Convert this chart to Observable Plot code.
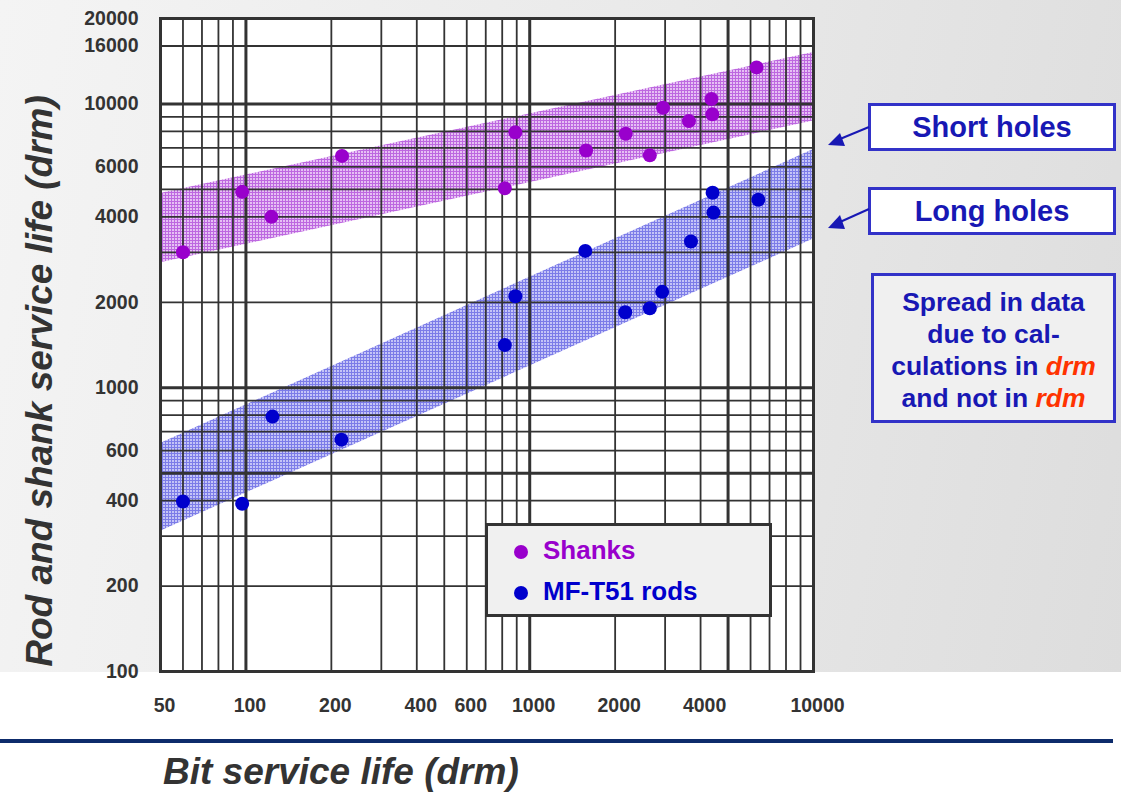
<!DOCTYPE html>
<html>
<head>
<meta charset="utf-8">
<script src="https://cdn.jsdelivr.net/npm/d3@7"></script>
<script src="https://cdn.jsdelivr.net/npm/@observablehq/plot@0.6"></script>
<style>
  body { margin: 0; background: #fff; }
  #wrap { position: relative; width: 1121px; height: 794px; overflow: hidden; font-family: "Liberation Sans", Arial, sans-serif; }
  #bg { position: absolute; left: 0; top: 0; width: 1121px; height: 672px;
        background: linear-gradient(100deg, #f4f4f4 0%, #e9e9e9 55%, #dddddd 100%); }
  #chart { position: absolute; left: 0; top: 0; }
  .ytitle { position: absolute; left: 40px; top: 381px; transform: translate(-50%, -50%) rotate(-90deg);
            white-space: nowrap; font-size: 37px; font-weight: bold; font-style: italic; color: #333; }
  .xtitle { position: absolute; left: 163px; top: 753px; white-space: nowrap; font-size: 37px; line-height: 37px;
            font-weight: bold; font-style: italic; color: #333; }
  .rule { position: absolute; left: 0; top: 739px; width: 1113px; height: 4px; background: #0d2b6b; }
  .box { position: absolute; box-sizing: border-box; border: 3px solid #3232c8; color: #1818b4;
         font-weight: bold; text-align: center; white-space: nowrap; }
  .legend { position: absolute; box-sizing: border-box; left: 485px; top: 523px; width: 287px; height: 94px;
            border: 3px solid #333; background: #f0f0f0; }
  .litem { position: absolute; left: 0; font-size: 26px; font-weight: bold; white-space: nowrap; }
  .ldot { position: absolute; width: 14px; height: 14px; border-radius: 50%; }
  .red { color: #ff3300; font-style: italic; }
  #arrows { position: absolute; left: 0; top: 0; }
</style>
</head>
<body>
<div id="wrap">
  <div id="bg"></div>
  <div id="chart"></div>
  <div class="ytitle">Rod and shank service life (drm)</div>
  <div class="rule"></div>
  <div class="xtitle">Bit service life (drm)</div>
  <div class="legend">
    <div class="ldot" style="left:26px;top:19px;background:#9900cc"></div>
    <div class="litem" style="left:55px;top:9px;color:#9900cc">Shanks</div>
    <div class="ldot" style="left:26px;top:60px;background:#0000cc"></div>
    <div class="litem" style="left:55px;top:50px;color:#0000cc">MF-T51 rods</div>
  </div>
  <div class="box" style="left:868px;top:103px;width:248px;height:48px;background:#fff;font-size:29px;line-height:42px;">Short holes</div>
  <div class="box" style="left:868px;top:187px;width:248px;height:48px;background:#fff;font-size:29px;line-height:42px;">Long holes</div>
  <div class="box" style="left:871px;top:273px;width:245px;height:150px;background:#f0f0f0;font-size:26.5px;line-height:32px;padding-top:10px;">
    Spread in data<br>due to cal-<br>culations in <span class="red">drm</span><br>and not in <span class="red">rdm</span>
  </div>
  <svg id="arrows" width="1121" height="794">
    <line x1="869" y1="127" x2="840" y2="139" stroke="#1818b4" stroke-width="2"/>
    <polygon points="828,145 840,133 845,146" fill="#1818b4"/>
    <line x1="869" y1="209" x2="840" y2="222" stroke="#1818b4" stroke-width="2"/>
    <polygon points="828,228 840,215 845,229" fill="#1818b4"/>
  </svg>
</div>
<script>
// ---- data ----
const shankX = [60, 97, 123, 218, 817, 890, 1580, 2180, 2650, 2950, 3640, 4370, 4400, 6300];
const shankY = [3000, 4900, 4000, 6560, 5040, 7940, 6850, 7850, 6590, 9700, 8700, 10400, 9190, 13450];
const rodX = [60, 97, 124, 217, 817, 890, 1570, 2170, 2650, 2930, 3700, 4410, 4440, 6390];
const rodY = [397, 390, 791, 656, 1413, 2100, 3035, 1845, 1906, 2177, 3276, 4864, 4140, 4594];
const bandX = [50, 10000];
const shortLow = [2754, 8707];
const shortHigh = [4834, 15170];
const longLow = [312, 3340];
const longHigh = [636, 6905];
const xMinorGrid = [60, 70, 80, 90, 200, 300, 400, 500, 600, 700, 800, 900, 2000, 3000, 4000, 6000, 7000, 8000, 9000];
const xMajorGrid = [100, 1000, 5000];
const yMinorGrid = [200, 300, 400, 600, 700, 800, 900, 2000, 3000, 4000, 5000, 6000, 7000, 8000, 9000, 16000];
const yMajorGrid = [500, 1000, 10000];
const xTicks = [50, 100, 200, 400, 600, 1000, 2000, 4000, 10000];
const yTicks = [100, 200, 400, 600, 1000, 2000, 4000, 6000, 10000, 16000, 20000];

const gridColor = "#333";
const labelColor = "#333";

const plot = Plot.plot({
  width: 1121,
  height: 794,
  marginLeft: 160,
  marginRight: 308,
  marginTop: 18,
  marginBottom: 123,
  x: {type: "log", domain: [50, 10000], axis: null},
  y: {type: "log", domain: [100, 20000], axis: null},
  style: {background: "transparent", fontFamily: "'Liberation Sans', Arial, sans-serif", fontSize: "19px", fontWeight: "bold", color: "#333", overflow: "visible"},
  marks: [
    Plot.frame({fill: "white", stroke: null}),
    Plot.area(bandX, {x1: bandX, y1: shortLow, y2: shortHigh, fill: "#cf8fe8"}),
    Plot.area(bandX, {x1: bandX, y1: longLow, y2: longHigh, fill: "#9c9cee"}),
    Plot.ruleX(xMinorGrid, {stroke: gridColor, strokeWidth: 1.8}),
    Plot.ruleY(yMinorGrid, {stroke: gridColor, strokeWidth: 1.8}),
    Plot.ruleX(xMajorGrid, {stroke: gridColor, strokeWidth: 3}),
    Plot.ruleY(yMajorGrid, {stroke: gridColor, strokeWidth: 3}),
    Plot.frame({stroke: gridColor, strokeWidth: 3}),
    Plot.dot(shankX, {x: shankX, y: shankY, r: 7, fill: "#9900cc", stroke: null}),
    Plot.dot(rodX, {x: rodX, y: rodY, r: 7, fill: "#0000cc", stroke: null}),
    Plot.text(xTicks, {x: d => d, frameAnchor: "bottom", dy: 40, dx: 4, text: d => String(d),
      fontSize: 19.5, fontWeight: "bold", fill: labelColor, textAnchor: "middle"}),
    Plot.text(yTicks, {y: d => d, frameAnchor: "left", dx: -22, text: d => String(d),
      fontSize: 19.5, fontWeight: "bold", fill: labelColor, textAnchor: "end"})
  ]
});
document.getElementById("chart").appendChild(plot);

// hatch patterns for the bands
const svg = d3.select(plot.tagName.toLowerCase() === "svg" ? plot : plot.querySelector("svg"));
const defs = svg.insert("defs", ":first-child");
function pattern(id, bg, fg) {
  const p = defs.append("pattern").attr("id", id).attr("patternUnits", "userSpaceOnUse").attr("width", 3).attr("height", 3);
  p.append("rect").attr("width", 3).attr("height", 3).attr("fill", bg);
  p.append("rect").attr("width", 3).attr("height", 1).attr("fill", fg);
  p.append("rect").attr("width", 1).attr("height", 3).attr("fill", fg);
}
pattern("hatchShort", "#e6c0f4", "#bd68e0");
pattern("hatchLong", "#c4c4f7", "#7c7ce8");
const areas = svg.selectAll('g[aria-label="area"]').nodes();
if (areas[0]) d3.select(areas[0]).selectAll("path").attr("fill", "url(#hatchShort)");
if (areas[1]) d3.select(areas[1]).selectAll("path").attr("fill", "url(#hatchLong)");
</script>
</body>
</html>
